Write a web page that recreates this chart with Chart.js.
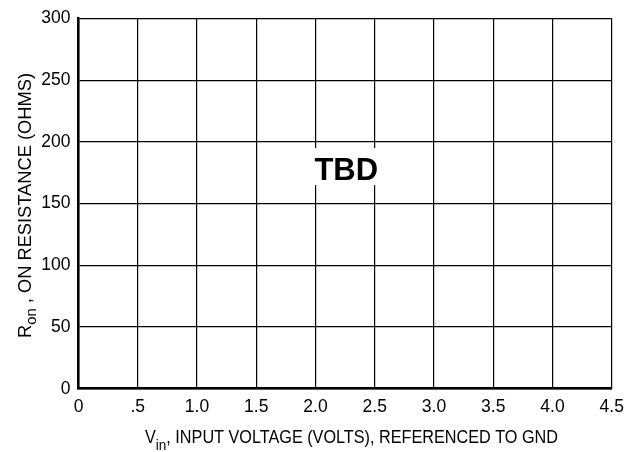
<!DOCTYPE html>
<html>
<head>
<meta charset="utf-8">
<script src="https://cdn.jsdelivr.net/npm/chart.js@4.4.1/dist/chart.umd.min.js"></script>
<style>
  html, body { margin: 0; background: #fff; }
  #wrap { width: 634px; height: 452px; position: relative; }
</style>
</head>
<body>
<div id="wrap"><canvas id="chRon"></canvas></div>
<script>
/* Ron vs Vin chart (placeholder "TBD" grid), Chart.js v4 */
var xTicks = [0, 0.5, 1.0, 1.5, 2.0, 2.5, 3.0, 3.5, 4.0, 4.5];
var xTickLabels = ["0", ".5", "1.0", "1.5", "2.0", "2.5", "3.0", "3.5", "4.0", "4.5"];
var yTicks = [0, 50, 100, 150, 200, 250, 300];
var ronData = []; // curve not characterised yet
var noteText = "TBD";
var noteAt = { x: 2.26, y: 169 };
var xTitle = ["V", "in", ", INPUT VOLTAGE (VOLTS), REFERENCED TO GND"];
var yTitle = ["R", "on", " , ON RESISTANCE (OHMS)"];

var FONT = "'Liberation Sans', Arial, Helvetica, sans-serif", INK = "#000";

// draws main/subscript/main text run, squeezed to a target length
function subTitle(ctx, parts, x, y, rot, target, mainPx, subPx, drop) {
  ctx.save();
  ctx.translate(x, y);
  ctx.rotate(rot);
  var fMain = mainPx + "px " + FONT, fSub = subPx + "px " + FONT;
  ctx.font = fMain; var w0 = ctx.measureText(parts[0]).width, w2 = ctx.measureText(parts[2]).width;
  ctx.font = fSub; var w1 = ctx.measureText(parts[1]).width;
  ctx.scale(target / (w0 + w1 + w2), 1);
  ctx.fillStyle = INK; ctx.textAlign = "left"; ctx.textBaseline = "alphabetic";
  ctx.font = fMain; ctx.fillText(parts[0], 0, 0);
  ctx.font = fSub; ctx.fillText(parts[1], w0, drop);
  ctx.font = fMain; ctx.fillText(parts[2], w0 + w1, 0);
  ctx.restore();
}

var extras = {
  id: "extras",
  afterDraw: function (chart) {
    var ctx = chart.ctx, sx = chart.scales.x, sy = chart.scales.y;
    // TBD note on a white patch
    var px = sx.getPixelForValue(noteAt.x), py = sy.getPixelForValue(noteAt.y);
    ctx.save();
    ctx.fillStyle = "#fff";
    ctx.fillRect(px - 38, py - 32, 76, 37);
    ctx.fillStyle = INK;
    ctx.font = "bold 31px " + FONT;
    ctx.textAlign = "center"; ctx.textBaseline = "alphabetic";
    ctx.fillText(noteText, px, py);
    ctx.restore();
    subTitle(ctx, xTitle, 145, 443, 0, 413, 18, 15, 7);
    subTitle(ctx, yTitle, 30.5, 338, -Math.PI / 2, 265, 18.5, 15, 5);
  }
};

new Chart(document.getElementById("chRon"), {
  type: "scatter",
  data: { datasets: [{ data: ronData, showLine: true, borderColor: INK, pointRadius: 0 }] },
  options: {
    responsive: true, maintainAspectRatio: false, animation: false,
    layout: { padding: { top: 14.3, right: 22.3, left: 0, bottom: 0 } },
    plugins: { legend: { display: false }, tooltip: { enabled: false } },
    scales: {
      x: {
        type: "linear", min: 0, max: 4.5,
        afterBuildTicks: function (s) { s.ticks = xTicks.map(function (v) { return { value: v }; }); },
        afterFit: function (s) { s.height = 63.3; },
        grid: { color: INK, lineWidth: 1.2, drawTicks: false },
        border: { color: INK, width: 2.5 },
        ticks: { color: INK, padding: 8, maxRotation: 0, font: { family: FONT, size: 17.5 },
          callback: function (v, i) { return xTickLabels[i]; } }
      },
      y: {
        type: "linear", min: 0, max: 300,
        afterBuildTicks: function (s) { s.ticks = yTicks.map(function (v) { return { value: v }; }); },
        afterFit: function (s) { s.width = 78.5; },
        grid: { color: INK, lineWidth: 1.2, drawTicks: false },
        border: { color: INK, width: 2.5 },
        ticks: { color: INK, padding: 8, font: { family: FONT, size: 17.5 } }
      }
    }
  },
  plugins: [extras]
});
</script>
</body>
</html>
